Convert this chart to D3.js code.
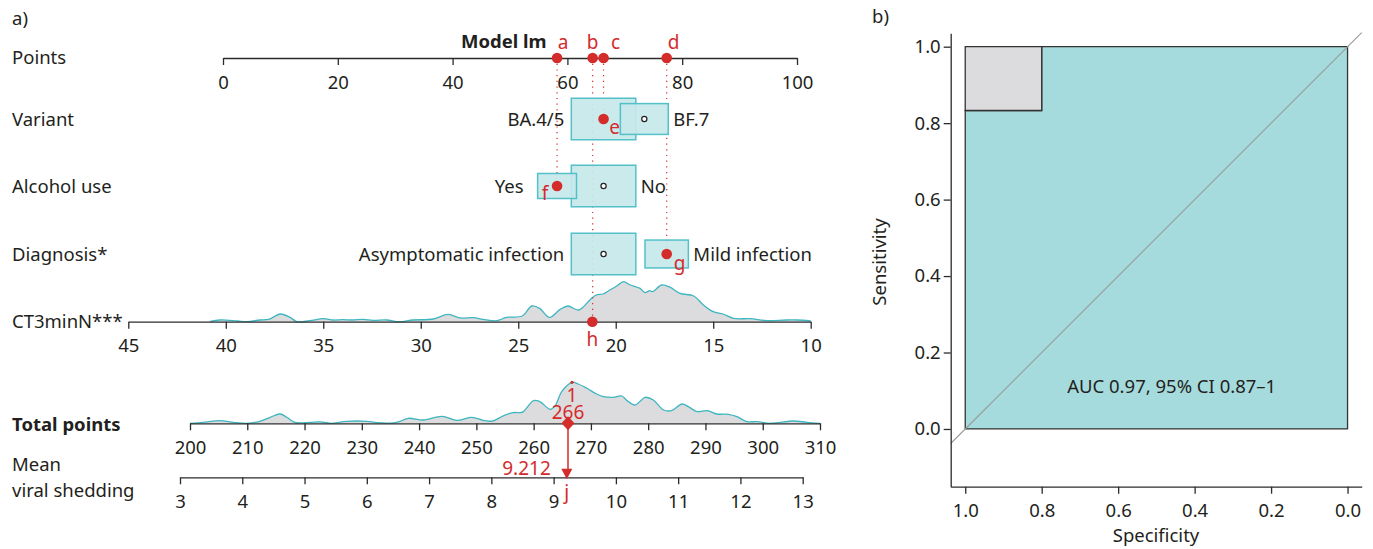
<!DOCTYPE html>
<html>
<head>
<meta charset="utf-8">
<script src="https://cdn.jsdelivr.net/npm/d3@7"></script>
<style>
body{margin:0;background:#fff;}
svg text{font-family:"Noto Sans",sans-serif;}
</style>
</head>
<body>
<svg id="chart" width="1373" height="549"></svg>
<script>
/*********************************************
** nomogram (a) + ROC curve (b)
**********************************************/

// ---- data ----
var pointsTicks = [0, 20, 40, 60, 80, 100];
var ctTicks = [45, 40, 35, 30, 25, 20, 15, 10];
var totalTicks = [200, 210, 220, 230, 240, 250, 260, 270, 280, 290, 300, 310];
var shedTicks = [3, 4, 5, 6, 7, 8, 9, 10, 11, 12, 13];

var rowNames = ["Variant", "Alcohol use", "Diagnosis*"];
var variantLevels = ["BA.4/5", "BF.7"];
var variantCounts = [29, 16];
var variantPoints = [66.3, 73.4];
var alcoholLevels = ["Yes", "No"];
var alcoholCounts = [12, 33];
var alcoholPoints = [58.2, 66.3];
var diagnosisLevels = ["Asymptomatic infection", "Mild infection"];
var diagnosisCounts = [31, 14];
var diagnosisPoints = [66.3, 77.3];

// the example patient
var patientLevels = ["BA.4/5", "Yes", "Mild infection"];
var patientRowLetters = ["e", "f", "g"];
var patientCT = 21.2;
var patientPoints = [58.2, 64.4, 66.3, 77.3];
var patientPointLetters = ["a", "b", "c", "d"];
var patientTotal = 266;
var patientShedding = 9.212;

// CT3minN density (relative units)
var ctDensityAt = [40.8, 40.3, 39.4, 38.9, 38.25, 37.8, 37.2, 36.7, 36.35, 35.7, 35.0, 34.5, 34.0, 33.5, 32.95, 32.45, 31.75, 31.1, 30.4, 29.35, 28.6, 28.0, 27.3, 26.8, 26.1, 25.6, 24.8, 24.3, 23.9, 23.4, 22.85, 22.45, 21.9, 21.3, 21.0, 20.65, 20.3, 19.95, 19.6, 19.25, 18.75, 18.5, 18.25, 18.1, 17.65, 17.2, 16.7, 16.0, 15.5, 15.0, 14.5, 13.95, 13.1, 12.25, 11.25, 10.7, 10.0];
var ctDensity = [0.3, 1.7, 0.7, 0, 1.7, 2.3, 7.7, 4.3, 0, 1, 3, 1.7, 2, 1.7, 2.3, 1.3, 1.7, 0, 1.7, 2.7, 7.3, 3.8, 4, 2.3, 1, 4.3, 5.7, 15.7, 13.3, 4.3, 12.3, 15.7, 11.7, 22.3, 26.7, 27.7, 31.7, 35.7, 40, 36.7, 33.3, 29, 31, 30, 36.7, 34.3, 28.3, 25.7, 16.7, 10, 7.7, 3.3, 3, 1, 1.7, 1.7, 0.7];

// total points density (relative units)
var totalDensityAt = [200, 202.3, 205.2, 207.6, 209.9, 212.2, 214, 215.7, 216.9, 218.3, 221, 222.7, 224.5, 227.4, 230.9, 232.6, 235.5, 236.7, 238.1, 240.8, 244, 246.6, 249.2, 251.2, 252.8, 254.7, 256.4, 257.6, 258.2, 260, 261.1, 262.9, 263.8, 264.9, 266.7, 267.8, 269.3, 271, 272.2, 273.9, 275.4, 276.3, 277.7, 279.5, 280.9, 282.7, 284.1, 285.9, 287, 288.5, 290.3, 292, 294, 295.5, 297.2, 299, 301.3, 305.4, 307.7, 310];
var totalDensity = [0, 1, 2.7, 1, 0, 2, 6, 9.3, 6, 1, 1, 1.5, 0, 2, 2, 0.7, 0.5, 2, 5, 3.3, 7, 3, 6, 3, 2.2, 7.5, 10.7, 10.7, 11.7, 22.7, 21.7, 14, 18, 31.7, 41, 39.3, 35, 29.3, 26.7, 26, 27.3, 22.7, 18.3, 26, 23.3, 13.3, 12.7, 19.3, 16.7, 11.7, 12.7, 9.3, 9, 6.7, 1.7, 1.7, 0, 2.3, 1, 0];

// ROC
var rocTicks = [1.0, 0.8, 0.6, 0.4, 0.2, 0.0];
var rocSpec = [1, 1, 0.8, 0.8, 0];
var rocSens = [0, 0.833, 0.833, 1, 1];
var aucLabel = "AUC 0.97, 95% CI 0.87\u20131";

// ---- style ----
var FS = 18.5;
var ink = "#231f20", axisInk = "#2b2b2b", red = "#d42b2b";
var teal = "#3db6c0", boxFill = "#c7e8ea", boxLine = "#54c0c8";
var grayFill = "#dcdcde", rocFill = "#a6dbdd";

var svg = d3.select("#chart");

// ---- scales ----
var ptsX = d3.scaleLinear().domain([0, 100]).range([223, 797]);
var ctX = d3.scaleLinear().domain([45, 10]).range([128.3, 810.7]);
var totX = d3.scaleLinear().domain([200, 310]).range([190, 820]);
var shedX = d3.scaleLinear().domain([3, 13]).range([180, 802.7]);

var yPoints = 58, yRows = [119, 186, 254], yCT = 321.7, yTotal = 423.3, yShed = 477.3;

function label(x, y, txt, opts){
  opts = opts || {};
  return svg.append("text")
    .attr("x", x).attr("y", y).attr("dy", "0.35em")
    .attr("text-anchor", opts.anchor || "start")
    .attr("font-size", opts.size || FS)
    .attr("font-weight", opts.weight || null)
    .attr("fill", opts.color || ink)
    .text(txt);
}

function drawAxis(axis, tx, ty){
  var g = svg.append("g")
    .attr("transform", "translate(" + tx + "," + ty + ")")
    .call(axis)
    .attr("font-size", null).attr("font-family", null)
    .attr("color", axisInk);
  g.selectAll("path,line").attr("stroke-width", 1.3);
  g.selectAll("text").attr("font-size", FS).attr("fill", ink);
  return g;
}

function bottomAxis(scale, ticks, y, fmt){
  return drawAxis(d3.axisBottom(scale).tickValues(ticks).tickSize(7)
    .tickSizeOuter(0).tickPadding(10.5).tickFormat(fmt || function(d){ return d; }), 0, y);
}

// ---- panel a ----
label(12, 19, "a)");
label(12, yPoints, "Points");
rowNames.forEach(function(n, i){ label(12, yRows[i] + 1, n); });
label(12, yCT, "CT3minN***");
label(12, yTotal + 1, "Total points", {weight: "bold"});
label(12, 465, "Mean");
label(12, 491, "viral shedding");
label(461, 42, "Model lm", {weight: "bold"});

// densities (drawn under the axes)
function drawDensity(at, dens, scale, y0, maxH){
  var h = d3.scaleLinear().domain([0, d3.max(dens)]).range([0, maxH]);
  var pts = at.map(function(v, i){ return [scale(v), y0 - h(dens[i])]; });
  svg.append("path").datum(pts)
    .attr("d", d3.area().x(function(d){ return d[0]; }).y0(y0).y1(function(d){ return d[1]; }).curve(d3.curveCatmullRom))
    .attr("fill", grayFill);
  svg.append("path").datum(pts)
    .attr("d", d3.line().x(function(d){ return d[0]; }).y(function(d){ return d[1]; }).curve(d3.curveCatmullRom))
    .attr("fill", "none").attr("stroke", teal).attr("stroke-width", 1.3);
  return h;
}
drawDensity(ctDensityAt, ctDensity, ctX, yCT, 40);
var totH = drawDensity(totalDensityAt, totalDensity, totX, yTotal, 41);

// dotted guide lines from the points axis down to each patient mark
var rowPoints = [variantPoints, alcoholPoints, diagnosisPoints];
var rowLevels = [variantLevels, alcoholLevels, diagnosisLevels];
var rowCounts = [variantCounts, alcoholCounts, diagnosisCounts];
var guideEnds = [];
rowLevels.forEach(function(lv, r){
  var k = lv.indexOf(patientLevels[r]);
  guideEnds.push({x: rowPoints[r][k], y: yRows[r]});
});
guideEnds.push({x: patientPoints[1], y: yCT});
guideEnds.forEach(function(d){
  svg.append("line")
    .attr("x1", ptsX(d.x)).attr("x2", ptsX(d.x))
    .attr("y1", yPoints).attr("y2", d.y)
    .attr("stroke", red).attr("stroke-width", 1.2)
    .attr("stroke-dasharray", "1.2,4.5");
});

// patient letter nudges in the category rows (letter sits left for "f")
var rowNudge = [[11, 8], [-12, 7], [13, 9]];

// category boxes
var boxW = 64.5, boxH = 41.5;
rowLevels.forEach(function(lv, r){
  var maxN = d3.max(rowCounts[r]);
  var order = d3.range(lv.length).sort(function(a, b){ return rowCounts[r][b] - rowCounts[r][a]; });
  order.forEach(function(k){
    var s = Math.sqrt(rowCounts[r][k] / maxN);
    var cx = ptsX(rowPoints[r][k]);
    svg.append("rect")
      .attr("x", cx - boxW * s / 2).attr("y", yRows[r] - boxH * s / 2)
      .attr("width", boxW * s).attr("height", boxH * s)
      .attr("fill", boxFill).attr("fill-opacity", 0.92)
      .attr("stroke", boxLine).attr("stroke-width", 1.5);
  });
  // labels: lower-points level on the left, the other on the right
  var lo = rowPoints[r][0] <= rowPoints[r][1] ? 0 : 1, hi = 1 - lo;
  var sLo = Math.sqrt(rowCounts[r][lo] / maxN), sHi = Math.sqrt(rowCounts[r][hi] / maxN);
  var gapLo = (lv[lo] === patientLevels[r] && rowNudge[r][0] < 0) ? 14 : 7;
  label(ptsX(rowPoints[r][lo]) - boxW * sLo / 2 - gapLo, yRows[r] + 1, lv[lo], {anchor: "end"});
  label(ptsX(rowPoints[r][hi]) + boxW * sHi / 2 + 5, yRows[r] + 1, lv[hi]);
  // markers: red dot for the patient, small open circle otherwise
  lv.forEach(function(name, k){
    if (name === patientLevels[r]) return;
    svg.append("circle").attr("cx", ptsX(rowPoints[r][k])).attr("cy", yRows[r])
      .attr("r", 2.6).attr("fill", "#fff").attr("stroke", ink).attr("stroke-width", 1.2);
  });
});

// axes
bottomAxis(ptsX, pointsTicks, yPoints);
bottomAxis(ctX, ctTicks, yCT);
bottomAxis(totX, totalTicks, yTotal);
bottomAxis(shedX, shedTicks, yShed);

// patient marks on the points axis
var topNudge = [6, 0, 12, 7];
patientPoints.forEach(function(p, i){
  svg.append("circle").attr("cx", ptsX(p)).attr("cy", yPoints).attr("r", 5.3).attr("fill", red);
  label(ptsX(p) + topNudge[i], 42, patientPointLetters[i], {anchor: "middle", color: red, size: 19});
});

// patient marks in the category rows
rowLevels.forEach(function(lv, r){
  var k = lv.indexOf(patientLevels[r]);
  var cx = ptsX(rowPoints[r][k]);
  svg.append("circle").attr("cx", cx).attr("cy", yRows[r]).attr("r", 5.3).attr("fill", red);
  label(cx + rowNudge[r][0], yRows[r] + rowNudge[r][1], patientRowLetters[r], {anchor: "middle", color: red, size: 19});
});

// patient CT value
svg.append("circle").attr("cx", ctX(patientCT)).attr("cy", yCT).attr("r", 5.3).attr("fill", red);
label(ctX(patientCT), yCT + 18, "h", {anchor: "middle", color: red, size: 19});

// total points -> mean viral shedding
var peakI = d3.maxIndex(totalDensity);
var peakX = totX(totalDensityAt[peakI]), peakY = yTotal - totH(totalDensity[peakI]);
svg.append("circle").attr("cx", peakX).attr("cy", peakY).attr("r", 1.6).attr("fill", red);
label(peakX, peakY + 13, "1", {anchor: "middle", color: red, size: 19});
var tx = totX(patientTotal);
label(tx, yTotal - 11, String(patientTotal), {anchor: "middle", color: red, size: 19});
svg.append("line").attr("x1", tx).attr("x2", tx).attr("y1", yTotal).attr("y2", yShed - 6)
  .attr("stroke", red).attr("stroke-width", 1.5);
svg.append("path")
  .attr("d", "M" + tx + "," + (yTotal - 7) + "L" + (tx + 6.5) + "," + yTotal + "L" + tx + "," + (yTotal + 7) + "L" + (tx - 6.5) + "," + yTotal + "Z")
  .attr("fill", red);
var sx = shedX(patientShedding);
svg.append("path")
  .attr("d", "M" + (sx - 5.5) + "," + (yShed - 8.5) + "L" + (sx + 5.5) + "," + (yShed - 8.5) + "L" + sx + "," + (yShed + 2) + "Z")
  .attr("fill", red);
label(sx - 16, yShed - 8.5, d3.format(".3f")(patientShedding), {anchor: "end", color: red, size: 19});
label(sx, yShed + 15, "j", {anchor: "middle", color: red, size: 19});

// ---- panel b: ROC ----
var rocX = d3.scaleLinear().domain([1.038, -0.037]).range([950.7, 1361.7]);
var rocY = d3.scaleLinear().domain([-0.151, 1.035]).range([486.7, 33.3]);

label(872, 17, "b)");

var curve = rocSpec.map(function(s, i){ return [rocX(s), rocY(rocSens[i])]; });
var under = curve.concat([[rocX(0), rocY(0)]]);
var above = [[rocX(1), rocY(1)]].concat(curve.filter(function(d, i){ return rocSens[i] > 0 && !(rocSens[i] === 1 && rocSpec[i] < rocSpec[rocSpec.length - 2]); }));

svg.append("path").datum(under)
  .attr("d", function(d){ return "M" + d.join("L") + "Z"; })
  .attr("fill", rocFill).attr("stroke", "#333").attr("stroke-width", 1.3);
svg.append("path").datum(above)
  .attr("d", function(d){ return "M" + d.join("L") + "Z"; })
  .attr("fill", grayFill).attr("stroke", "#333").attr("stroke-width", 1.3);

// chance line
svg.append("line")
  .attr("x1", rocX(1.038)).attr("y1", rocY(-0.038))
  .attr("x2", rocX(-0.037)).attr("y2", rocY(1.037))
  .attr("stroke", "#9a9a9a").attr("stroke-width", 1.1);

label(rocX(0.46), rocY(0.11), aucLabel, {anchor: "middle"});

drawAxis(d3.axisBottom(rocX).tickValues(rocTicks).tickSize(7).tickSizeOuter(0)
  .tickPadding(10.5).tickFormat(d3.format(".1f")), 0, rocY.range()[0]);
drawAxis(d3.axisLeft(rocY).tickValues(rocTicks).tickSize(7).tickSizeOuter(0)
  .tickPadding(3).tickFormat(d3.format(".1f")), rocX.range()[0], 0);

label(1156, 536, "Specificity", {anchor: "middle"});
svg.append("text")
  .attr("transform", "translate(880,262) rotate(-90)")
  .attr("dy", "0.35em").attr("text-anchor", "middle")
  .attr("font-size", FS).attr("fill", ink)
  .text("Sensitivity");
</script>
</body>
</html>
